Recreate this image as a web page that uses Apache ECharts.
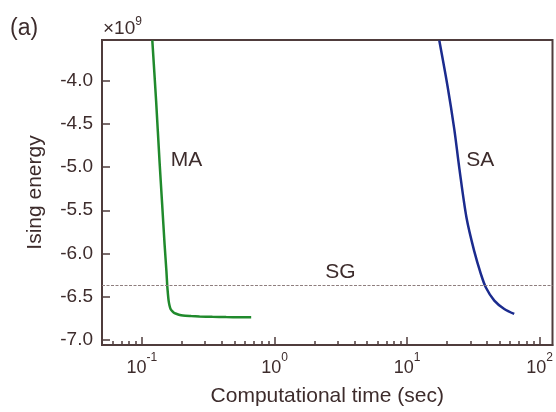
<!DOCTYPE html>
<html>
<head>
<meta charset="utf-8">
<script src="https://cdn.jsdelivr.net/npm/echarts@6/dist/echarts.min.js"></script>
<style>
  html, body { margin: 0; padding: 0; background: #ffffff; }
  #chart { width: 556px; height: 412px; }
</style>
</head>
<body>
<div id="chart"></div>
<script>
// Ising energy (×10^9) versus computational time (sec), log time axis
const maTime   = [0.1198, 0.1280, 0.1359, 0.1420, 0.1483, 0.1530, 0.1553, 0.1572, 0.1590, 0.1615, 0.1645, 0.1700, 0.1762, 0.1900, 0.2037, 0.2350, 0.2720, 0.3400, 0.4320, 0.5500, 0.6670];
const maEnergy = [-3.540, -4.240, -4.944, -5.420, -5.897, -6.200, -6.372, -6.470, -6.543, -6.600, -6.639, -6.668, -6.688, -6.705, -6.715, -6.721, -6.726, -6.730, -6.733, -6.734, -6.734];

const saTime   = [17.5, 20.2, 22.7, 24.8, 28.1, 32.1, 36.1, 39.3, 45.5, 54.1, 64.3];
const saEnergy = [-3.540, -4.068, -4.563, -5.019, -5.590, -5.972, -6.239, -6.391, -6.543, -6.639, -6.696];

const sgEnergy = -6.365;

const yTicks      = [-7.0, -6.5, -6.0, -5.5, -5.0, -4.5, -4.0];
const xMajorTicks = [0.1, 1, 10, 100];
const xMinorTicks = [0.05, 0.06, 0.07, 0.08, 0.09,
                     0.2, 0.3, 0.4, 0.5, 0.6, 0.7, 0.8, 0.9,
                     2, 3, 4, 5, 6, 7, 8, 9,
                     20, 30, 40, 50, 60, 70, 80, 90];

// curve annotations: [time, energy, text]
const annotations = [
  [0.217, -4.917, 'MA'],
  [3.14, -6.216, 'SG'],
  [35.6, -4.920, 'SA']
];

const textColor = '#3d2c2c';
const axisColor = '#4f3c3c';
const font = '"Liberation Sans", Arial, Helvetica, sans-serif';

const zip = (xs, ys) => xs.map((x, i) => [x, ys[i]]);

const chart = echarts.init(document.getElementById('chart'), null, { renderer: 'canvas' });

chart.setOption({
  animation: false,
  backgroundColor: '#ffffff',
  textStyle: { fontFamily: font, color: textColor },
  grid: {
    left: 102, right: 3, top: 40, bottom: 64,
    show: true, borderColor: axisColor, borderWidth: 2, backgroundColor: 'transparent'
  },
  xAxis: [
    {
      type: 'log', min: 0.05, max: 125, position: 'bottom',
      name: 'Computational time (sec)', nameLocation: 'middle', nameGap: 41,
      nameTextStyle: { fontSize: 21, color: textColor, fontFamily: font },
      axisLine: { show: true, lineStyle: { color: axisColor, width: 2 } },
      axisTick: { show: true, inside: true, length: 8, customValues: xMajorTicks,
                  lineStyle: { color: axisColor, width: 1.5 } },
      minorTick: { show: false },
      splitLine: { show: false },
      axisLabel: {
        customValues: xMajorTicks, margin: 7,
        formatter: v => '{b|10}{s|' + Math.round(Math.log10(v)) + '}',
        rich: {
          b: { fontSize: 18, color: textColor, fontFamily: font, lineHeight: 25, verticalAlign: 'bottom' },
          s: { fontSize: 12, color: textColor, fontFamily: font, lineHeight: 12, verticalAlign: 'top' }
        }
      }
    },
    {
      type: 'log', min: 0.05, max: 125, position: 'bottom',
      axisLine: { show: false },
      axisTick: { show: true, inside: true, length: 4, customValues: xMinorTicks,
                  lineStyle: { color: axisColor, width: 1.5 } },
      axisLabel: { show: false },
      splitLine: { show: false }
    }
  ],
  yAxis: {
    type: 'value', min: -7.055, max: -3.535,
    name: 'Ising energy', nameLocation: 'middle', nameGap: 56,
    nameTextStyle: { fontSize: 21, color: textColor, fontFamily: font },
    axisLine: { show: true, lineStyle: { color: axisColor, width: 2 } },
    axisTick: { show: true, inside: true, length: 8, customValues: yTicks,
                lineStyle: { color: axisColor, width: 1.5 } },
    splitLine: { show: false },
    axisLabel: {
      customValues: yTicks, margin: 9,
      formatter: v => v.toFixed(1),
      fontSize: 19, color: textColor, fontFamily: font
    }
  },
  graphic: [
    {
      type: 'text', left: 10, top: 17,
      style: { text: '(a)', font: '23px ' + font, fill: textColor }
    },
    {
      type: 'text', left: 103, top: 16,
      style: {
        text: '{b|×10}{s|9}',
        rich: {
          b: { fontSize: 19, fill: textColor, fontFamily: font, lineHeight: 22, verticalAlign: 'bottom' },
          s: { fontSize: 12, fill: textColor, fontFamily: font, lineHeight: 12, verticalAlign: 'top' }
        }
      }
    }
  ],
  series: [
    {
      name: 'MA', type: 'line', xAxisIndex: 0, data: zip(maTime, maEnergy),
      showSymbol: false, smooth: 0.2,
      lineStyle: { color: '#208a2c', width: 2.5 },
      markLine: {
        silent: true, symbol: 'none', label: { show: false },
        lineStyle: { color: '#8e7e7e', width: 1, type: [3, 1.5] },
        data: [{ yAxis: sgEnergy }]
      }
    },
    {
      name: 'SA', type: 'line', xAxisIndex: 0, data: zip(saTime, saEnergy),
      showSymbol: false, smooth: 0.3,
      lineStyle: { color: '#1b2b8e', width: 2.5 }
    },
    {
      name: 'labels', type: 'scatter', xAxisIndex: 0, symbolSize: 0, silent: true,
      itemStyle: { opacity: 1 },
      data: annotations,
      label: {
        show: true, position: 'inside', formatter: p => p.value[2],
        fontSize: 21, color: textColor, fontFamily: font, opacity: 1
      }
    }
  ]
});
</script>
</body>
</html>
